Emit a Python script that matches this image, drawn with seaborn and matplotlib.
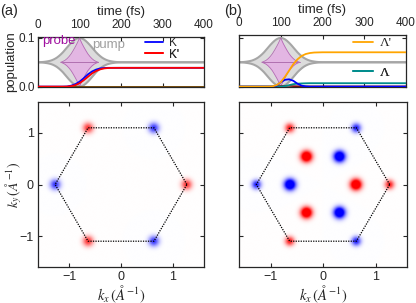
import numpy as np
import matplotlib
matplotlib.use('Agg')
import matplotlib.pyplot as plt
import seaborn as sns

# ---------------- data ----------------
time_fs = [0, 60, 70, 80, 90, 100, 110, 120, 130, 140, 150, 160, 170, 180, 200, 400]
pop_K_a = [0, 0, 0.0003, 0.002, 0.005, 0.010, 0.017, 0.025, 0.031, 0.035, 0.0375, 0.0383, 0.0386, 0.0386, 0.0386, 0.0386]
pop_Kp_a = [0, 0, 0.0001, 0.001, 0.003, 0.007, 0.013, 0.020, 0.027, 0.032, 0.0355, 0.0375, 0.0383, 0.0385, 0.0386, 0.0386]
pop_L_a = [0] * 16
pop_Lp_a = [0] * 16
pop_Lp_b = [0, 0, 0.0001, 0.0005, 0.003, 0.009, 0.020, 0.033, 0.046, 0.056, 0.063, 0.067, 0.069, 0.070, 0.0705, 0.0705]
pop_L_b = [0, 0, 0, 0, 0, 0, 0.001, 0.003, 0.005, 0.006, 0.0065, 0.0068, 0.007, 0.007, 0.007, 0.007]
pop_K_b = [0, 0, 0, 0, 0.002, 0.009, 0.014, 0.015, 0.012, 0.006, 0.002, 0.0005, 0, 0, 0, 0]
pop_Kp_b = [0, 0, 0, 0, 0.0005, 0.001, 0.0015, 0.0015, 0.001, 0.0008, 0.0006, 0.0005, 0.0005, 0.0005, 0.0005, 0.0005]

pulse_center_fs = 100
pulse_baseline = 0.05
pulse_amp = 0.05
# envelope, as function of |t - 100 fs|
pump_dt = [0, 5, 10, 15, 20, 25, 30, 35, 40, 45, 50, 55, 60, 65, 70, 75, 80, 85, 90, 100]
pump_env = [1.0, 0.985, 0.945, 0.88, 0.80, 0.71, 0.61, 0.51, 0.41, 0.325, 0.25, 0.185, 0.135, 0.095, 0.065, 0.045, 0.03, 0.018, 0.01, 0.0]
probe_dt = [0, 3, 6, 10, 15, 20, 25, 30, 35, 40, 45]
probe_env = [1.0, 0.88, 0.77, 0.64, 0.49, 0.35, 0.24, 0.15, 0.08, 0.035, 0.0]

# k-space spots (angle in degrees, radius in 1/Angstrom, sign, amplitude, width)
K_radius = 1.27
spots_a_angle = [0, 60, 120, 180, 240, 300]
spots_a_radius = [1.27] * 6
spots_a_sign = [1, -1, 1, -1, 1, -1]
spots_a_amp = [0.8] * 6
spots_a_width = [0.07] * 6

spots_b_angle = [0, 60, 120, 180, 240, 300] * 2
spots_b_radius = [1.27] * 6 + [0.63] * 6
spots_b_sign = [1, -1, 1, -1, 1, -1] * 2
spots_b_amp = [0.9] * 6 + [1.7] * 6
spots_b_width = [0.062] * 6 + [0.074] * 6

# ---------------- style ----------------
sns.set_style('ticks')
plt.rcParams['font.family'] = ['Liberation Sans', 'DejaVu Sans']
plt.rcParams['mathtext.fontset'] = 'stix'
plt.rcParams['axes.linewidth'] = 0.9
plt.rcParams['xtick.direction'] = 'in'
plt.rcParams['ytick.direction'] = 'in'

W, H = 416, 303
fig = plt.figure(figsize=(W / 100, H / 100), dpi=100)

def fr(x0, y0, x1, y1):
    return [x0 / W, 1 - y1 / H, (x1 - x0) / W, (y1 - y0) / H]

ax_ta = fig.add_axes(fr(38, 37, 204, 87))
ax_tb = fig.add_axes(fr(239, 35, 406, 87))
ax_ma = fig.add_axes(fr(38, 102, 204, 267))
ax_mb = fig.add_axes(fr(239, 102, 407, 267))

TICK_FS = 8.5
LAB_FS = 9.5

blue = '#0000FF'
red = '#FF0000'
orange = '#FFA500'
teal = '#008C8C'

def line(ax, x, y, **kw):
    return sns.lineplot(x=x, y=y, ax=ax, sort=False, estimator=None, errorbar=None, **kw).lines[-1]

def pulses(ax):
    pdt = np.array(pump_dt, float)
    pe = np.array(pump_env, float)
    t_p = np.concatenate([[0], pulse_center_fs - pdt[::-1], pulse_center_fs + pdt[1:], [400]])
    e_p = np.concatenate([[0], pe[::-1], pe[1:], [0]])
    up = pulse_baseline + pulse_amp * e_p
    lo = pulse_baseline - pulse_amp * e_p
    ax.fill_between(t_p, lo, up, color='#DCDCDC', lw=0, zorder=1)
    line(ax, t_p, up, color='#A6A6A6', lw=1.5, zorder=2)
    line(ax, t_p, lo, color='#A6A6A6', lw=1.5, zorder=2)
    qdt = np.array(probe_dt, float)
    qe = np.array(probe_env, float)
    t_q = np.concatenate([pulse_center_fs - qdt[::-1], pulse_center_fs + qdt[1:]])
    e_q = np.concatenate([qe[::-1], qe[1:]])
    upq = pulse_baseline + pulse_amp * e_q
    loq = pulse_baseline - pulse_amp * e_q
    ax.fill_between(t_q, loq, upq, color='#EE82EE', alpha=0.42, lw=0, zorder=3)
    line(ax, t_q, upq, color='#B468B4', lw=0.6, zorder=4)
    line(ax, t_q, loq, color='#B468B4', lw=0.6, zorder=4)
    line(ax, t_q, np.full_like(t_q, pulse_baseline), color='#B070B0', lw=0.7, zorder=4)

def top_style(ax, ytop, ylabels):
    ax.set_xlim(0, 400)
    ax.set_ylim(-0.0008, ytop)
    ax.set_xticks([0, 100, 200, 300, 400])
    ax.set_yticks([0.0, 0.1])
    ax.set_yticklabels(['0.0', '0.1'] if ylabels else [])
    ax.tick_params(axis='x', top=True, bottom=True, labeltop=True, labelbottom=False,
                   length=3, width=0.8, pad=4, labelsize=TICK_FS)
    ax.tick_params(axis='y', left=True, right=True, length=3, width=0.8, pad=2,
                   labelsize=TICK_FS)
    ax.xaxis.set_label_position('top')
    ax.set_xlabel('time (fs)', fontsize=LAB_FS, labelpad=3)
    ax.set_ylabel('')

leg_kw = dict(frameon=False, handlelength=1.5, handletextpad=0.55, borderpad=0,
              borderaxespad=0, loc='center left')

def legend_at(ax, handle, label, xy, **kw):
    lg = ax.legend([handle], [label], bbox_to_anchor=xy, **leg_kw, **kw)
    ax.add_artist(lg)
    return lg

# ---- panel (a) top
pulses(ax_ta)
line(ax_ta, time_fs, pop_Lp_a, color=orange, lw=1.2, zorder=5)
line(ax_ta, time_fs, pop_L_a, color='#5A3A10', lw=1.2, zorder=5)
lK = line(ax_ta, time_fs, pop_K_a, color=blue, lw=1.3, zorder=6)
lKp = line(ax_ta, time_fs, pop_Kp_a, color=red, lw=1.3, zorder=7)
top_style(ax_ta, 0.102, True)
ax_ta.set_ylabel('population', fontsize=LAB_FS, labelpad=1)
ax_ta.text(10, 0.093, 'probe', color='#A010A0', fontsize=9.5, va='center', ha='left', zorder=8)
ax_ta.text(131, 0.086, 'pump', color='#A0A0A0', fontsize=9.5, va='center', ha='left', zorder=8)
legend_at(ax_ta, lK, 'K', (0.645, 0.87), fontsize=8.5)
legend_at(ax_ta, lKp, "K'", (0.645, 0.65), fontsize=8.5)

# ---- panel (b) top
pulses(ax_tb)
line(ax_tb, time_fs, pop_Kp_b, color='#7A1010', lw=1.2, zorder=5)
lL = line(ax_tb, time_fs, pop_L_b, color=teal, lw=1.3, zorder=6)
line(ax_tb, time_fs, pop_K_b, color=blue, lw=1.3, zorder=6)
lLp = line(ax_tb, time_fs, pop_Lp_b, color=orange, lw=1.3, zorder=7)
top_style(ax_tb, 0.106, False)
serif = {'family': 'Liberation Serif', 'size': 9.5}
legend_at(ax_tb, lLp, "Λ'", (0.683, 0.846), prop=serif)
legend_at(ax_tb, lL, 'Λ', (0.683, 0.27), prop=serif)

# ---- k-space maps
ext = 1.6
g = np.linspace(-ext, ext, 401)
KX, KY = np.meshgrid(g, g)

def kmap(angles, radii, signs, amps, widths):
    Z = np.zeros_like(KX)
    for a, r, s, A, w in zip(angles, radii, signs, amps, widths):
        cx, cy = r * np.cos(np.radians(a)), r * np.sin(np.radians(a))
        Z += s * A * np.exp(-((KX - cx) ** 2 + (KY - cy) ** 2) / (2 * w ** 2))
    return Z

hex_ang = np.radians(np.arange(0, 361, 60))
hex_x = K_radius * np.cos(hex_ang)
hex_y = K_radius * np.sin(hex_ang)

def map_style(ax, ylab):
    ax.set_xlim(-ext, ext)
    ax.set_ylim(-ext, ext)
    ax.set_xticks([-1, 0, 1])
    ax.set_yticks([-1, 0, 1])
    ax.tick_params(axis='both', top=True, right=True, length=3, width=0.8,
                   labelsize=TICK_FS + 0.5, pad=3)
    ax.set_xlabel(r'$k_x\,(\AA^{-1})$', fontsize=10.5, labelpad=0)
    if ylab:
        ax.set_ylabel(r'$k_y\,(\AA^{-1})$', fontsize=10)
        ax.yaxis.set_label_coords(-0.085, 0.5)
    else:
        ax.set_yticklabels([])

Za = kmap(spots_a_angle, spots_a_radius, spots_a_sign, spots_a_amp, spots_a_width)
Zb = kmap(spots_b_angle, spots_b_radius, spots_b_sign, spots_b_amp, spots_b_width)
for ax, Z, yl in [(ax_ma, Za, True), (ax_mb, Zb, False)]:
    ax.imshow(Z, extent=(-ext, ext, -ext, ext), origin='lower', cmap='bwr',
              vmin=-1, vmax=1, interpolation='bilinear', aspect='auto')
    line(ax, hex_x, hex_y, color='black', lw=0.9, linestyle=(0, (1, 1)))
    map_style(ax, yl)

fig.text(0 / W, 1 - 4 / H, '(a)', fontsize=10.5, va='top', ha='left')
fig.text(224 / W, 1 - 4 / H, '(b)', fontsize=10.5, va='top', ha='left')

fig.savefig('out.png', dpi=100)
